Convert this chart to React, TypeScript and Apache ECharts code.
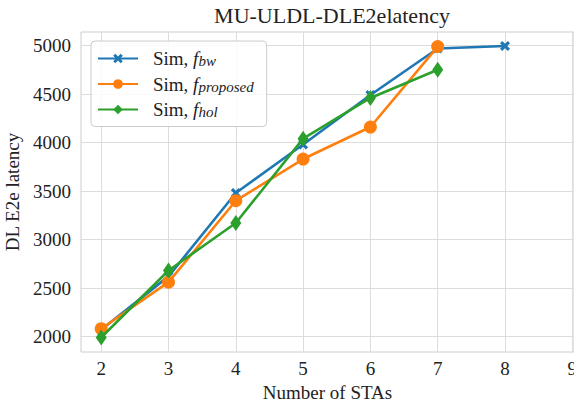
import React, { useEffect, useRef } from "react";
import * as echarts from "echarts";

const xValues = [2, 3, 4, 5, 6, 7, 8];
const fBw = [2070, 2620, 3480, 3980, 4490, 4970, 4995];
const fProposed = [2080, 2560, 3400, 3830, 4160, 4990];
const fHol = [1990, 2680, 3170, 4040, 4460, 4750];
const xTicks = [2, 3, 4, 5, 6, 7, 8, 9];
const yTicks = [2000, 2500, 3000, 3500, 4000, 4500, 5000];

const FONT = "Liberation Serif";
const XMARK =
  "path://M2.2,0 L5,2.8 L7.8,0 L10,2.2 L7.2,5 L10,7.8 L7.8,10 L5,7.2 L2.2,10 L0,7.8 L2.8,5 L0,2.2 Z";

function pairs(vals: number[]) {
  return vals.map((v, i) => [xValues[i], v]);
}

export default function App() {
  const ref = useRef<HTMLDivElement>(null);
  useEffect(() => {
    if (!ref.current) return;
    const chart = echarts.init(ref.current, null, { renderer: "svg" });
    const rich = {
      a: {
        fontFamily: FONT,
        fontSize: 19,
        color: "#222",
        lineHeight: 20,
        padding: [0, 0, 0, 10],
      },
      f: { fontFamily: FONT, fontSize: 19, fontStyle: "italic", color: "#222", lineHeight: 20 },
      s: {
        fontFamily: FONT,
        fontSize: 15,
        fontStyle: "italic",
        color: "#222",
        lineHeight: 9,
        verticalAlign: "bottom",
      },
    };
    const subs: Record<string, string> = {
      "Sim, f_bw": "bw",
      "Sim, f_proposed": "proposed",
      "Sim, f_hol": "hol",
    };
    chart.setOption({
      animation: false,
      backgroundColor: "#ffffff",
      textStyle: { fontFamily: FONT },
      title: {
        text: "MU-ULDL-DLE2elatency",
        left: 327,
        textAlign: "center",
        top: -1,
        textStyle: { fontFamily: FONT, fontSize: 22, fontWeight: "normal", color: "#222" },
      },
      grid: {
        left: 81,
        right: 0,
        top: 32,
        bottom: 49,
        outerBoundsMode: "none",
        containLabel: false,
        show: true,
        borderColor: "#cccccc",
        borderWidth: 1,
        backgroundColor: "transparent",
      },
      legend: {
        left: 91,
        top: 41,
        orient: "vertical",
        itemWidth: 40,
        itemHeight: 12,
        itemGap: 6,
        padding: [8, 13, 7, 6],
        backgroundColor: "rgba(255,255,255,0.85)",
        borderColor: "#cccccc",
        borderWidth: 1,
        borderRadius: 4,
        textStyle: { fontFamily: FONT, fontSize: 19, rich },
        formatter: (name: string) => `{a|Sim, }{f|f}{s|${subs[name]}}`,
        data: ["Sim, f_bw", "Sim, f_proposed", "Sim, f_hol"],
      },
      xAxis: {
        type: "value",
        min: 1.7,
        max: 9.025,
        name: "Number of STAs",
        nameLocation: "middle",
        nameGap: 24,
        nameTextStyle: { fontFamily: FONT, fontSize: 19, color: "#222", lineHeight: 19 },
        axisLine: { show: false },
        axisTick: { show: false, customValues: xTicks },
        axisLabel: {
          customValues: xTicks,
          formatter: (v: number) => String(v),
          fontFamily: FONT,
          fontSize: 19,
          color: "#222",
          margin: 7,
        },
        splitLine: { show: true, lineStyle: { color: "#dcdcdc", width: 1 } },
      },
      yAxis: {
        type: "value",
        min: 1840,
        max: 5140,
        name: "DL E2e latency",
        nameLocation: "middle",
        nameGap: 51,
        nameTextStyle: { fontFamily: FONT, fontSize: 19, color: "#222" },
        axisLine: { show: false },
        axisTick: { show: false, customValues: yTicks },
        axisLabel: {
          customValues: yTicks,
          formatter: (v: number) => String(v),
          fontFamily: FONT,
          fontSize: 19,
          color: "#222",
          margin: 10,
        },
        splitLine: { show: true, lineStyle: { color: "#dcdcdc", width: 1 } },
      },
      series: [
        {
          name: "Sim, f_bw",
          type: "line",
          data: pairs(fBw),
          color: "#1f77b4",
          lineStyle: { width: 2.6 },
          symbol: XMARK,
          symbolSize: 10,
          itemStyle: { color: "#1f77b4" },
          z: 2,
        },
        {
          name: "Sim, f_proposed",
          type: "line",
          data: pairs(fProposed),
          color: "#ff7f0e",
          lineStyle: { width: 2.6 },
          symbol: "circle",
          symbolSize: 13,
          itemStyle: { color: "#ff7f0e" },
          z: 3,
        },
        {
          name: "Sim, f_hol",
          type: "line",
          data: pairs(fHol),
          color: "#2ca02c",
          lineStyle: { width: 2.6 },
          symbol: "diamond",
          symbolSize: [11, 16],
          itemStyle: { color: "#2ca02c" },
          z: 4,
        },
      ],
    });
    return () => chart.dispose();
  }, []);
  return (
    <div
      ref={ref}
      style={{ position: "absolute", left: 0, top: 0, width: 574, height: 401, background: "#fff" }}
    />
  );
}
